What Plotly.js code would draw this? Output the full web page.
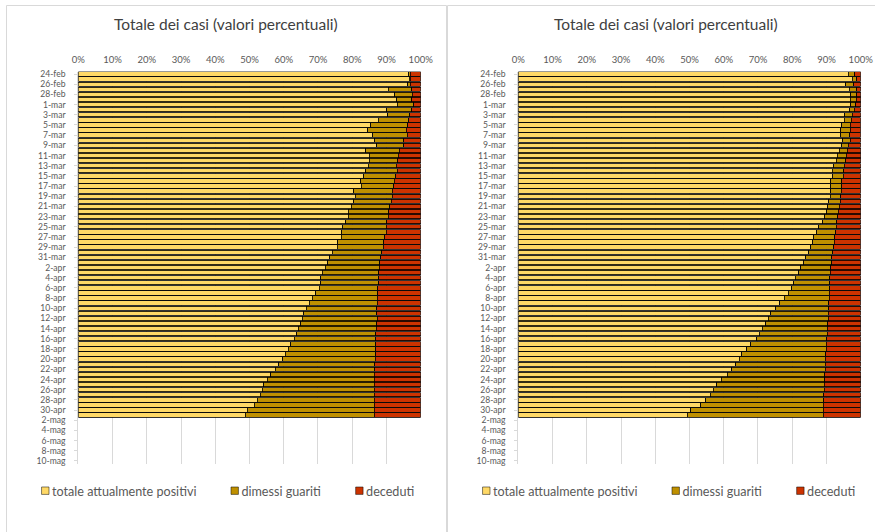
<!DOCTYPE html>
<html>
<head>
<meta charset="utf-8">
<script src="https://cdn.plot.ly/plotly-3.0.1.min.js"></script>
<style>
  html, body { margin: 0; padding: 0; background: #ffffff; }
  #chart { width: 875px; height: 532px; }
</style>
</head>
<body>
<div id="chart"></div>
<script>
// Category axis (every day), and the labels shown (every other day)
const dates = [
  "24-feb","25-feb","26-feb","27-feb","28-feb","29-feb",
  "1-mar","2-mar","3-mar","4-mar","5-mar","6-mar","7-mar","8-mar","9-mar","10-mar",
  "11-mar","12-mar","13-mar","14-mar","15-mar","16-mar","17-mar","18-mar","19-mar","20-mar",
  "21-mar","22-mar","23-mar","24-mar","25-mar","26-mar","27-mar","28-mar","29-mar","30-mar","31-mar",
  "1-apr","2-apr","3-apr","4-apr","5-apr","6-apr","7-apr","8-apr","9-apr","10-apr",
  "11-apr","12-apr","13-apr","14-apr","15-apr","16-apr","17-apr","18-apr","19-apr","20-apr",
  "21-apr","22-apr","23-apr","24-apr","25-apr","26-apr","27-apr","28-apr","29-apr","30-apr",
  "1-mag","2-mag","3-mag","4-mag","5-mag","6-mag","7-mag","8-mag","9-mag","10-mag"
];
const tickLabels = [
  "24-feb","26-feb","28-feb","1-mar","3-mar","5-mar","7-mar","9-mar","11-mar","13-mar",
  "15-mar","17-mar","19-mar","21-mar","23-mar","25-mar","27-mar","29-mar","31-mar",
  "2-apr","4-apr","6-apr","8-apr","10-apr","12-apr","14-apr","16-apr","18-apr","20-apr",
  "22-apr","24-apr","26-apr","28-apr","30-apr","2-mag","4-mag","6-mag","8-mag","10-mag"
];
// Days with data (24-feb .. 1-mag)
const dataDates = dates.slice(0, 68);

const seriesNames = ["totale attualmente positivi", "dimessi guariti", "deceduti"];
const chartTitle = "Totale dei casi (valori percentuali)";

// Left panel (%)
const leftPositivi = [96.5,96.6,96.2,90.5,92.4,93.0,
  93.1,90.1,90.4,87.6,85.4,84.5,86.0,86.6,87.1,83.9,85.0,85.0,84.7,83.9,83.3,82.5,82.7,80.4,80.9,80.5,79.7,78.8,78.9,78.1,77.3,77.0,76.8,75.8,75.6,74.2,73.4,
  72.9,72.1,71.3,70.8,70.8,70.3,69.4,68.3,67.5,66.6,65.8,65.4,65.0,64.2,63.8,63.1,62.0,61.3,60.5,59.7,58.6,57.5,56.2,55.2,54.2,53.7,53.1,52.2,51.4,49.4,
  48.7];
const leftGuariti = [0.4,0.3,0.8,6.9,5.2,4.4,
  4.9,7.3,6.4,8.9,10.8,11.3,10.0,8.4,7.9,9.9,8.4,8.3,8.1,9.3,9.4,9.8,9.4,11.3,10.8,10.9,11.3,11.9,11.6,12.0,12.6,12.9,12.7,13.4,13.4,14.4,14.9,
  15.2,15.8,16.5,16.9,16.9,17.2,18.0,19.0,19.8,20.6,21.4,21.9,22.2,22.8,23.1,23.8,24.8,25.5,26.3,27.0,28.0,29.1,30.3,31.3,32.3,32.8,33.4,34.2,35.0,37.0,
  37.7];
const leftDeceduti = [3.1,3.1,3.0,2.6,2.4,2.6,
  2.0,2.6,3.2,3.5,3.8,4.2,4.0,5.0,5.0,6.2,6.6,6.7,7.2,6.8,7.3,7.7,7.9,8.3,8.3,8.6,9.0,9.3,9.5,9.9,10.1,10.1,10.5,10.8,11.0,11.4,11.7,
  11.9,12.1,12.2,12.3,12.3,12.5,12.6,12.7,12.7,12.8,12.8,12.7,12.8,13.0,13.1,13.1,13.2,13.2,13.2,13.3,13.4,13.4,13.5,13.5,13.5,13.5,13.5,13.6,13.6,13.6,
  13.6];

// Right panel (%)
const rightPositivi = [96.4,97.6,95.6,96.7,97.1,96.9,
  97.1,96.8,95.4,95.2,94.4,94.1,94.2,94.7,94.4,93.8,93.2,92.9,92.1,91.7,91.8,91.3,91.3,91.2,91.1,90.7,90.4,90.1,89.5,88.9,87.8,87.2,86.3,86.0,85.4,84.8,83.9,
  83.3,82.5,81.9,80.9,80.4,79.9,78.9,77.7,76.3,75.2,73.8,73.0,72.3,71.3,70.4,69.6,67.9,66.7,65.3,64.5,63.5,62.3,61.0,59.3,57.9,56.9,56.0,54.7,53.3,50.4,
  49.4];
const rightGuariti = [1.8,1.2,2.3,2.2,1.7,1.8,
  1.4,1.3,2.1,2.1,2.5,2.8,2.6,2.2,2.0,2.3,2.6,2.7,3.1,3.3,3.1,3.1,3.1,3.1,3.0,3.3,3.3,3.4,3.8,4.1,5.0,5.5,6.1,6.3,6.7,7.1,7.7,
  8.2,8.7,9.2,10.1,10.6,11.0,11.9,13.1,14.4,15.5,16.7,17.5,18.1,19.0,19.8,20.5,22.1,23.2,24.5,25.2,26.2,27.3,28.5,30.2,31.5,32.4,33.2,34.5,35.8,38.7,
  39.7];
const rightDeceduti = [1.8,1.2,2.1,1.1,1.2,1.3,
  1.5,1.9,2.5,2.7,3.1,3.1,3.2,3.1,3.6,3.9,4.2,4.4,4.8,5.0,5.1,5.6,5.6,5.7,5.9,6.0,6.3,6.5,6.7,7.0,7.2,7.3,7.6,7.7,7.9,8.1,8.4,
  8.5,8.8,8.9,9.0,9.0,9.1,9.2,9.2,9.3,9.3,9.5,9.5,9.6,9.7,9.8,9.9,10.0,10.1,10.2,10.3,10.3,10.4,10.5,10.5,10.6,10.7,10.8,10.8,10.9,10.9,
  10.9];

const colors = ["#FFD966", "#BF9000", "#CC3300"];
const FONT = "Lato, 'Liberation Sans', Arial, sans-serif";
const TXT = "#595959";

function mkTraces(vals, xa, ya, legendId) {
  return vals.map((v, i) => ({
    type: "bar",
    orientation: "h",
    name: seriesNames[i],
    x: v,
    y: dataDates,
    xaxis: xa,
    yaxis: ya,
    legend: legendId,
    marker: { color: colors[i], line: { color: "#000000", width: 0.8 } },
    hoverinfo: "name+x+y"
  }));
}

const traces = [
  ...mkTraces([leftPositivi, leftGuariti, leftDeceduti], "x", "y", "legend"),
  ...mkTraces([rightPositivi, rightGuariti, rightDeceduti], "x2", "y2", "legend2")
];

const yTop = 1 - 71.5 / 532;
const yBot = 1 - 463.5 / 532;

function xAxis(domain, anchor) {
  return {
    domain: domain, anchor: anchor, side: "top",
    range: [0, 100], autorange: false,
    tickmode: "linear", tick0: 0, dtick: 10, ticksuffix: "%",
    showgrid: true, gridcolor: "#d9d9d9", gridwidth: 1,
    zeroline: false, showline: false,
    ticks: "outside", ticklen: 4, tickcolor: "rgba(0,0,0,0)",
    tickfont: { family: FONT, size: 9.5, color: TXT },
    fixedrange: true
  };
}
function yAxis(anchor) {
  return {
    domain: [yBot, yTop], anchor: anchor,
    type: "category", categoryorder: "array", categoryarray: dates,
    range: [dates.length - 0.5, -0.5], autorange: false,
    tickmode: "array", tickvals: tickLabels, ticktext: tickLabels,
    showgrid: false, zeroline: false,
    showline: true, linecolor: "#d9d9d9", linewidth: 1,
    ticks: "outside", ticklen: 3, tickcolor: "#d9d9d9",
    ticklabelstandoff: 7,
    tickfont: { family: FONT, size: 8.6, color: TXT },
    fixedrange: true
  };
}

const legendCommon = {
  orientation: "h", yanchor: "middle", y: 1 - 491 / 532, xanchor: "center",
  font: { family: FONT, size: 12.6, color: TXT },
  bgcolor: "rgba(0,0,0,0)", traceorder: "normal", itemwidth: 30
};

const layout = {
  width: 875, height: 532,
  margin: { l: 0, r: 0, t: 0, b: 0 },
  paper_bgcolor: "#ffffff", plot_bgcolor: "#ffffff",
  barmode: "stack", bargap: 0.15,
  font: { family: FONT, color: TXT },
  showlegend: true,
  xaxis: xAxis([78.3 / 875, 420.7 / 875], "y"),
  yaxis: yAxis("x"),
  xaxis2: xAxis([518.3 / 875, 860.7 / 875], "y2"),
  yaxis2: yAxis("x2"),
  legend: Object.assign({}, legendCommon, { x: 216 / 875 }),
  legend2: Object.assign({}, legendCommon, { x: 657 / 875 }),
  annotations: [
    { text: chartTitle, xref: "paper", yref: "paper",
      x: 226 / 875, y: 1 - 24 / 532, xanchor: "center", yanchor: "middle", showarrow: false,
      font: { family: FONT, size: 15.5, color: "#404040" } },
    { text: chartTitle, xref: "paper", yref: "paper",
      x: 666 / 875, y: 1 - 24 / 532, xanchor: "center", yanchor: "middle", showarrow: false,
      font: { family: FONT, size: 15.5, color: "#404040" } }
  ],
  shapes: [
    { type: "rect", xref: "paper", yref: "paper", x0: 6.5 / 875, x1: 446.5 / 875, y0: -0.05, y1: 1 - 5.5 / 532,
      line: { color: "#d9d9d9", width: 1 }, fillcolor: "rgba(0,0,0,0)", layer: "below" },
    { type: "rect", xref: "paper", yref: "paper", x0: 447.5 / 875, x1: 1.05, y0: -0.05, y1: 1 - 5.5 / 532,
      line: { color: "#d9d9d9", width: 1 }, fillcolor: "rgba(0,0,0,0)", layer: "below" }
  ]
};

// Excel-like legend: small square right next to its label (both legends)
function tightenLegend() {
  const gd = document.getElementById("chart");
  gd.querySelectorAll("g.legendsymbols").forEach(function (sym) {
    let g = sym.parentNode;
    let txt = null;
    while (g && g !== gd && !(txt = g.querySelector("text.legendtext"))) g = g.parentNode;
    if (!txt) return;
    sym.removeAttribute("transform");
    const sb = sym.getBBox();
    const tb = txt.getBBox();
    if (!sb.width || !tb.width) return;
    const s = 0.62;
    const cx = sb.x + sb.width / 2, cy = sb.y + sb.height / 2;
    const half = sb.width * s / 2;
    const ncx = tb.x - 3 - half;
    sym.setAttribute("transform",
      "translate(" + (ncx - s * cx) + "," + (cy - s * cy) + ") scale(" + s + ")");
  });
}

const chartDiv = document.getElementById("chart");
new MutationObserver(function () { tightenLegend(); })
  .observe(chartDiv, { childList: true, subtree: true });

Plotly.newPlot(chartDiv, traces, layout, { displayModeBar: false, staticPlot: true })
  .then(function (gd) {
    tightenLegend();
    gd.on("plotly_afterplot", tightenLegend);
    requestAnimationFrame(tightenLegend);
    setTimeout(tightenLegend, 0);
  });
</script>
</body>
</html>
